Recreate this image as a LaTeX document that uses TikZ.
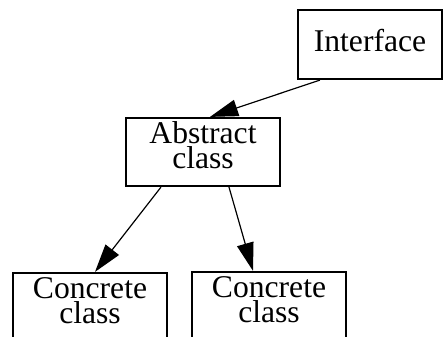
\documentclass[tikz,border=0pt]{standalone}
\usepackage{fontspec}
\setmainfont{Liberation Serif}
\usetikzlibrary{arrows.meta}

\begin{document}
\begin{tikzpicture}[every node/.style={draw, line width=1.56pt, inner sep=0pt, align=center,
    font=\fontsize{22.5pt}{17.6pt}\selectfont},
  classbox/.style={minimum width=3.85cm, minimum height=1.7cm, text height=33pt, text depth=9.3pt},
  link/.style={line width=0.85pt, -{Triangle[length=20pt, width=12pt]}}]
\useasboundingbox (0,0) rectangle (11.075,8.425);
\clip (0,0) rectangle (11.075,8.425);

\node[minimum width=3.6cm, minimum height=1.725cm, text height=15.4pt, text depth=6pt]
  (iface) at (9.25,7.3125) {Interface};
\node[classbox] (abs) at (5.075,4.625) {Abstract\\class};
\node[classbox] (con1) at (2.25,0.75) {Concrete\\class};
\node[classbox] (con2) at (6.725,0.775) {Concrete\\class};

\draw[link] ([xshift=0.575cm]iface.south west) -- ([xshift=0.175cm]abs.north);
\draw[link] ([xshift=-1.05cm]abs.south) -- ([xshift=0.125cm]con1.north);
\draw[link] ([xshift=0.65cm]abs.south) -- ([xshift=-0.4cm]con2.north);
\end{tikzpicture}
\end{document}
